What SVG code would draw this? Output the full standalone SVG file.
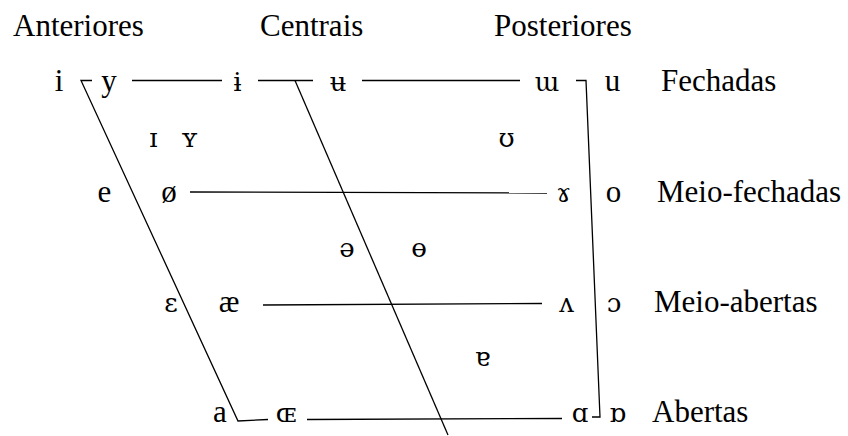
<svg xmlns="http://www.w3.org/2000/svg" width="848" height="436" viewBox="0 0 848 436">
<style>
text{font-family:"Liberation Serif","DejaVu Serif",serif;font-size:31px;fill:#000}
.v{text-anchor:middle}
.p{font-family:"DejaVu Serif","Liberation Serif",serif;font-size:26px}
.c{fill:none;stroke:#000;stroke-width:1.3}
</style>
<rect width="848" height="436" fill="#fff"/>
<g id="connectors">
<polyline class="c" points="92,80.5 81,80.5 238,421 268,419.5"/>
<line class="c" x1="295" y1="80.5" x2="448" y2="435"/>
<polyline class="c" points="576,80.5 586,80.5 600,417 592,417"/>
<line class="c" x1="132" y1="80.5" x2="222" y2="80.5"/>
<line class="c" x1="258" y1="80.5" x2="313" y2="80.5"/>
<line class="c" x1="362" y1="80.5" x2="520" y2="80.5"/>
<line class="c" x1="190" y1="192" x2="547" y2="193"/>
<line class="c" x1="263" y1="305" x2="542" y2="303.5"/>
<line class="c" x1="307" y1="419.5" x2="562" y2="418.5"/>
</g>
<g id="headers">
<text x="13" y="36">Anteriores</text>
<text x="260" y="36">Centrais</text>
<text x="494" y="36">Posteriores</text>
</g>
<g id="labels">
<text x="661" y="91">Fechadas</text>
<text x="657" y="202">Meio-fechadas</text>
<text x="654" y="312">Meio-abertas</text>
<text x="652" y="422">Abertas</text>
</g>
<g id="row-fechadas">
<text class="v" x="59" y="91">i</text>
<text class="v" x="109" y="91">y</text>
<text class="v p" x="237.5" y="91">ɨ</text>
<text class="v p" x="338" y="91">ʉ</text>
<text class="v p" x="547" y="91">ɯ</text>
<text class="v" x="612.5" y="91">u</text>
</g>
<g id="row-quase-fechadas">
<text class="v p" x="153.5" y="147">ɪ</text>
<text class="v p" x="189.5" y="147">ʏ</text>
<text class="v p" x="506.5" y="147">ʊ</text>
</g>
<g id="row-meio-fechadas">
<text class="v" x="104.5" y="202">e</text>
<text class="v" x="169" y="202">ø</text>
<text class="v p" x="563.5" y="202">ɤ</text>
<text class="v" x="613.5" y="202">o</text>
</g>
<g id="row-medias">
<text class="v p" x="347" y="257">ə</text>
<text class="v p" x="419" y="257">ɵ</text>
</g>
<g id="row-meio-abertas">
<text class="v p" x="171" y="312">ɛ</text>
<text class="v" x="229" y="312">æ</text>
<text class="v p" x="566.5" y="312">ʌ</text>
<text class="v p" x="614" y="312">ɔ</text>
</g>
<g id="row-quase-abertas">
<text class="v p" x="482.5" y="366">ɐ</text>
</g>
<g id="row-abertas">
<text class="v" x="220" y="422">a</text>
<text class="v p" x="286" y="422">ɶ</text>
<text class="v p" x="580" y="422">ɑ</text>
<text class="v p" x="617.5" y="422">ɒ</text>
</g>
</svg>
